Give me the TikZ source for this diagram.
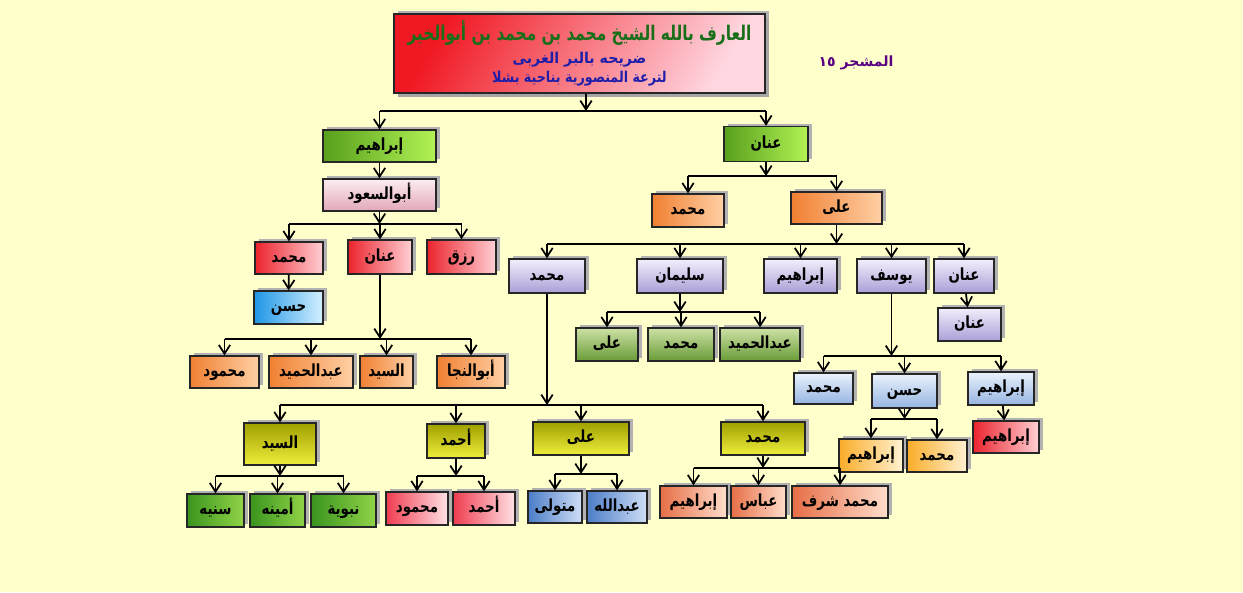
\documentclass[tikz,border=0pt]{standalone}
\usepackage{graphicx}
\usepackage{fontspec}
\newfontfamily\arabicfont[Script=Arabic]{DejaVu Sans}
\TeXXeTstate=1
\usetikzlibrary{arrows.meta,shadows}

\definecolor{bgyel}{RGB}{255,255,204}
\definecolor{titlegreen}{RGB}{25,110,25}
\definecolor{titleblue}{RGB}{30,30,170}
\definecolor{tagpurple}{RGB}{90,0,130}
\definecolor{rootred}{RGB}{240,25,35}
\definecolor{rootpink}{RGB}{255,215,225}
\definecolor{grnL}{RGB}{88,160,28}
\definecolor{grnR}{RGB}{178,242,85}
\definecolor{pnkT}{RGB}{252,236,240}
\definecolor{pnkB}{RGB}{226,168,184}
\definecolor{redL}{RGB}{236,35,45}
\definecolor{redR}{RGB}{255,208,212}
\definecolor{bluL}{RGB}{30,150,230}
\definecolor{bluR}{RGB}{212,240,255}
\definecolor{orgL}{RGB}{240,128,50}
\definecolor{orgR}{RGB}{255,208,165}
\definecolor{lavT}{RGB}{242,238,252}
\definecolor{lavB}{RGB}{172,158,214}
\definecolor{olgT}{RGB}{205,225,165}
\definecolor{olgB}{RGB}{105,155,55}
\definecolor{skyT}{RGB}{234,242,252}
\definecolor{skyB}{RGB}{150,180,225}
\definecolor{ylwL}{RGB}{250,172,40}
\definecolor{ylwR}{RGB}{255,242,210}
\definecolor{olvT}{RGB}{160,160,0}
\definecolor{olvB}{RGB}{238,238,60}
\definecolor{dgrL}{RGB}{58,148,30}
\definecolor{dgrR}{RGB}{145,212,72}
\definecolor{prdL}{RGB}{240,60,80}
\definecolor{prdR}{RGB}{255,226,230}
\definecolor{stlL}{RGB}{75,125,200}
\definecolor{stlR}{RGB}{208,222,246}
\definecolor{slmL}{RGB}{230,110,70}
\definecolor{slmR}{RGB}{255,222,204}

\newcommand{\artxt}[1]{\scalebox{0.8}[1]{\beginR #1\endR}}

\begin{document}
\begin{tikzpicture}[
    x=0.02cm, y=-0.02cm,
    >={Straight Barb[length=5pt,width=6.5pt]},
    link/.style={line width=1pt},
    arr/.style={->, line width=1pt},
    box/.style={draw=black!85, line width=0.8pt, minimum height=0.66cm, inner sep=1pt,
        text height=7pt, text depth=2pt,
        font=\arabicfont\bfseries\fontsize{9.5}{11}\selectfont,
        general shadow={fill=black!30, shadow xshift=0.07cm, shadow yshift=0.06cm}},
    bw/.style={minimum width=#1*0.02cm},
    bh/.style={minimum height=#1*0.02cm},
    cgrn/.style={box, left color=grnL, right color=grnR},
    cpnk/.style={box, top color=pnkT, bottom color=pnkB},
    cred/.style={box, left color=redL, right color=redR},
    cblu/.style={box, left color=bluL, right color=bluR},
    corg/.style={box, left color=orgL, right color=orgR},
    clav/.style={box, top color=lavT, bottom color=lavB},
    colg/.style={box, top color=olgT, bottom color=olgB},
    csky/.style={box, top color=skyT, bottom color=skyB},
    cylw/.style={box, left color=ylwL, right color=ylwR},
    colv/.style={box, top color=olvT, bottom color=olvB},
    cdgr/.style={box, left color=dgrL, right color=dgrR},
    cprd/.style={box, left color=prdL, right color=prdR},
    cstl/.style={box, left color=stlL, right color=stlR},
    cslm/.style={box, left color=slmL, right color=slmR}
]

\fill[bgyel] (0,0) rectangle (1243,592);
\useasboundingbox (0,0) rectangle (1243,592);

\node[box, left color=rootred, right color=rootpink, shading angle=60, bw=371, bh=79,
      align=center, inner sep=2pt, text height=, text depth=,
      general shadow={fill=black!35, shadow xshift=0.08cm, shadow yshift=-0.08cm}] (root) at (579.5,53.5)
  {{\color{titlegreen}\fontsize{11.5}{14}\selectfont\scalebox{0.76}[1]{\beginR العارف بالله الشيخ محمد بن محمد بن أبوالخير\endR}}\\[2pt]
   {\color{titleblue}\fontsize{8.5}{10}\selectfont\scalebox{0.95}[1]{\beginR ضريحه بالبر الغربى\endR}}\\
   {\color{titleblue}\fontsize{8.5}{10}\selectfont\scalebox{0.85}[1]{\beginR لترعة المنصورية بناحية بشلا\endR}}};
\node[font=\arabicfont\bfseries\fontsize{8}{10}\selectfont, text=tagpurple] (tag) at (856,63)
  {\beginR المشجر \beginL ١٥\endL\endR};

\node[cgrn, bw=113, bh=32] (ibr) at (379.5,146) {\artxt{إبراهيم}};
\node[cpnk, bw=113, bh=32] (asd) at (379.5,195) {\artxt{أبوالسعود}};
\node[cred, bw=68, bh=32] (mhA) at (289,258) {\artxt{محمد}};
\node[cred, bw=64, bh=34] (anA) at (380,257) {\artxt{عنان}};
\node[cred, bw=69, bh=34] (rzq) at (461.5,257) {\artxt{رزق}};
\node[cblu, bw=69] (hsA) at (288.5,307.5) {\artxt{حسن}};
\node[corg, bw=69, bh=32] (mdA) at (224.5,372) {\artxt{محمود}};
\node[corg, bw=84, bh=32] (ahA) at (311,372) {\artxt{عبدالحميد}};
\node[corg, bw=53, bh=32] (syA) at (386.5,372) {\artxt{السيد}};
\node[corg, bw=68, bh=32] (anj) at (471,372) {\artxt{أبوالنجا}};

\node[cgrn, bw=84, bh=35] (anR) at (766,144) {\artxt{عنان}};
\node[corg, bw=72] (mhR) at (688,210.5) {\artxt{محمد}};
\node[corg, bw=91, bh=32] (alR) at (836.5,208) {\artxt{على}};
\node[clav, bw=76, bh=34] (mhB) at (547,276) {\artxt{محمد}};
\node[clav, bw=86, bh=34] (slm) at (680,276) {\artxt{سليمان}};
\node[clav, bw=73, bh=34] (ibB) at (800.5,276) {\artxt{إبراهيم}};
\node[clav, bw=69, bh=34] (ysf) at (891.5,276) {\artxt{يوسف}};
\node[clav, bw=60, bh=34] (anB) at (964,276) {\artxt{عنان}};
\node[clav, bw=63] (anC) at (969.5,324.5) {\artxt{عنان}};
\node[colg, bw=62] (alC) at (607,344.5) {\artxt{على}};
\node[colg, bw=66] (mhC) at (681,344.5) {\artxt{محمد}};
\node[colg, bw=80] (ahC) at (760,344.5) {\artxt{عبدالحميد}};
\node[csky, bw=59, bh=31] (mhD) at (823.5,388.5) {\artxt{محمد}};
\node[csky, bw=65, bh=34] (hsD) at (904.5,391) {\artxt{حسن}};
\node[csky, bw=66] (ibD) at (1001,388.5) {\artxt{إبراهيم}};
\node[cylw, bw=64] (ibE) at (871,455.5) {\artxt{إبراهيم}};
\node[cylw, bw=60, bh=32] (mhE) at (937,456) {\artxt{محمد}};
\node[cred, bw=66, bh=32] (ibF) at (1006,437) {\artxt{إبراهيم}};

\node[colv, bw=72, bh=42] (syG) at (280,444) {\artxt{السيد}};
\node[colv, bw=58, bh=34] (ahG) at (456,441) {\artxt{أحمد}};
\node[colv, bw=96] (alG) at (581,438.5) {\artxt{على}};
\node[colv, bw=84] (mhG) at (763,438.5) {\artxt{محمد}};
\node[cdgr, bw=57] (snh) at (215.5,510.5) {\artxt{سنيه}};
\node[cdgr, bw=55] (amn) at (277.5,510.5) {\artxt{أمينه}};
\node[cdgr, bw=65] (nbw) at (343.5,510.5) {\artxt{نبوية}};
\node[cprd, bw=62] (mdH) at (417,508.5) {\artxt{محمود}};
\node[cprd, bw=62] (ahH) at (484,508.5) {\artxt{أحمد}};
\node[cstl, bw=54, bh=32] (mtw) at (555,507) {\artxt{متولى}};
\node[cstl, bw=60, bh=32] (abl) at (617,507) {\artxt{عبدالله}};
\node[cslm, bw=67, bh=32] (ibH) at (693.5,502) {\artxt{إبراهيم}};
\node[cslm, bw=55, bh=32] (abb) at (758.5,502) {\artxt{عباس}};
\node[cslm, bw=96, bh=32] (msh) at (840,502) {\artxt{محمد شرف}};

\coordinate (j0) at (0,111);
\coordinate (j1) at (0,224);
\coordinate (j2) at (0,339);
\coordinate (j3) at (0,176);
\coordinate (j4) at (0,244);
\coordinate (j5) at (0,312);
\coordinate (j6) at (0,356);
\coordinate (j7) at (0,419);
\coordinate (j8) at (0,405);
\coordinate (j9) at (0,476);
\coordinate (j10) at (0,476);
\coordinate (j11) at (0,474);
\coordinate (j12) at (0,468);

\draw[arr] ([xshift=0.13cm]root.south) -- ([xshift=0.13cm]root.south |- j0);
\draw[link] (ibr.north |- j0) -- (anR.north |- j0);
\foreach \n in {ibr,anR} \draw[arr] (\n.north |- j0) -- (\n.north);

\draw[arr] (ibr) -- (asd);
\draw[arr] (asd.south) -- (asd.south |- j1);
\draw[link] (mhA.north |- j1) -- (rzq.north |- j1);
\foreach \n in {mhA,anA,rzq} \draw[arr] (\n.north |- j1) -- (\n.north);
\draw[arr] (mhA) -- (hsA);
\draw[arr] (anA.south) -- (anA.south |- j2);
\draw[link] (mdA.north |- j2) -- (anj.north |- j2);
\foreach \n in {mdA,ahA,syA,anj} \draw[arr] (\n.north |- j2) -- (\n.north);

\draw[arr] (anR.south) -- (anR.south |- j3);
\draw[link] (mhR.north |- j3) -- (alR.north |- j3);
\foreach \n in {mhR,alR} \draw[arr] (\n.north |- j3) -- (\n.north);
\draw[arr] (alR.south) -- (alR.south |- j4);
\draw[link] (mhB.north |- j4) -- (anB.north |- j4);
\foreach \n in {mhB,slm,ibB,ysf,anB} \draw[arr] (\n.north |- j4) -- (\n.north);
\draw[arr] (anB) -- (anC);
\draw[arr] (slm.south) -- (slm.south |- j5);
\draw[link] (alC.north |- j5) -- (ahC.north |- j5);
\foreach \n in {alC,mhC,ahC} \draw[arr] (\n.north |- j5) -- (\n.north);
\draw[arr] (ysf.south) -- (ysf.south |- j6);
\draw[link] (mhD.north |- j6) -- (ibD.north |- j6);
\foreach \n in {mhD,hsD,ibD} \draw[arr] (\n.north |- j6) -- (\n.north);
\draw[arr] (hsD.south) -- (hsD.south |- j7);
\draw[link] (ibE.north |- j7) -- (mhE.north |- j7);
\foreach \n in {ibE,mhE} \draw[arr] (\n.north |- j7) -- (\n.north);
\draw[arr] (ibD) -- (ibF);

\draw[arr] (mhB.south) -- (mhB.south |- j8);
\draw[link] (syG.north |- j8) -- (mhG.north |- j8);
\foreach \n in {syG,ahG,alG,mhG} \draw[arr] (\n.north |- j8) -- (\n.north);
\draw[arr] (syG.south) -- (syG.south |- j9);
\draw[link] (snh.north |- j9) -- (nbw.north |- j9);
\foreach \n in {snh,amn,nbw} \draw[arr] (\n.north |- j9) -- (\n.north);
\draw[arr] (ahG.south) -- (ahG.south |- j10);
\draw[link] (mdH.north |- j10) -- (ahH.north |- j10);
\foreach \n in {mdH,ahH} \draw[arr] (\n.north |- j10) -- (\n.north);
\draw[arr] (alG.south) -- (alG.south |- j11);
\draw[link] (mtw.north |- j11) -- (abl.north |- j11);
\foreach \n in {mtw,abl} \draw[arr] (\n.north |- j11) -- (\n.north);
\draw[arr] (mhG.south) -- (mhG.south |- j12);
\draw[link] (ibH.north |- j12) -- (msh.north |- j12);
\foreach \n in {ibH,abb,msh} \draw[arr] (\n.north |- j12) -- (\n.north);

\end{tikzpicture}
\end{document}
